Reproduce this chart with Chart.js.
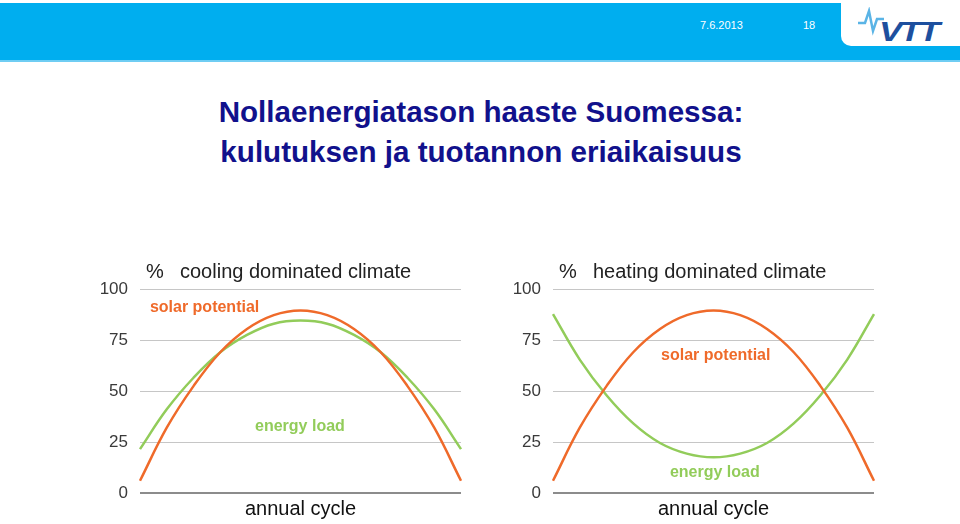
<!DOCTYPE html>
<html>
<head>
<meta charset="utf-8">
<script src="https://cdn.jsdelivr.net/npm/chart.js@4.4.1/dist/chart.umd.min.js"></script>
<style>
  html, body { margin: 0; padding: 0; background: #fff; }
  body { width: 960px; height: 524px; position: relative; overflow: hidden; font-family: "Liberation Sans", Arial, sans-serif; }
  #bar { position: absolute; left: 0; top: 3px; width: 960px; height: 57px; background: #00aeef; border-bottom: 2px solid #6fcdf3; }
  #tab { position: absolute; left: 841px; top: 0; width: 119px; height: 46px; background: #fff; border-bottom-left-radius: 10px; }
  #date { position: absolute; left: 700px; top: 19px; color: #fff; font-size: 11px; }
  #page { position: absolute; left: 803px; top: 19px; color: #fff; font-size: 11px; }
  #logo { position: absolute; left: 879px; top: 16px; color: #1d4f9e; font: italic bold 28px "Liberation Sans", Arial, sans-serif; letter-spacing: -2px; transform: scaleX(1.25); transform-origin: left top; }
  #pulse { position: absolute; left: 856px; top: 7px; }
  #title { position: absolute; left: 0; width: 962px; top: 92px; text-align: center; color: #11118c; font: bold 29.6px "Liberation Sans", Arial, sans-serif; line-height: 40px; }
  .chartBox { position: absolute; top: 255px; width: 375px; height: 270px; }
</style>
</head>
<body>
<div id="bar"></div>
<div id="tab"></div>
<div id="date">7.6.2013</div>
<div id="page">18</div>
<svg id="pulse" width="30" height="30"><polyline points="2,16 9,16 13,4 17,24 21,12 28,12" fill="none" stroke="#5ab4e6" stroke-width="2.5"/></svg>
<div id="logo">VTT</div>
<div id="title">Nollaenergiatason haaste Suomessa:<br>kulutuksen ja tuotannon eriaikaisuus</div>
<div class="chartBox" style="left:90px"><canvas id="coolingChart"></canvas></div>
<div class="chartBox" style="left:503px"><canvas id="heatingChart"></canvas></div>
<script>
// annual cycle, 13 points from start to end of the year
const months = ['Jan', 'Feb', 'Mar', 'Apr', 'May', 'Jun', 'Jul', 'Aug', 'Sep', 'Oct', 'Nov', 'Dec', 'Jan'];
const yTicks = [0, 25, 50, 75, 100];

// cooling dominated climate (%)
const coolingSolar = [6, 32, 52.4, 69, 80.4, 87.2, 89.5, 87.2, 80.4, 69, 52.4, 32, 6];
const coolingLoad = [21.5, 41, 56.5, 69, 77.5, 83, 84.5, 83, 77.5, 69, 56.5, 41, 21.5];

// heating dominated climate (%)
const heatingSolar = [6, 32, 52.4, 69, 80.4, 87.2, 89.5, 87.2, 80.4, 69, 52.4, 32, 6];
const heatingLoad = [87.7, 65.4, 47.9, 34.1, 24.5, 19.3, 17.5, 19.3, 24.5, 34.1, 47.9, 65.4, 87.7];

const ORANGE = '#ef6a2a';
const GREEN = '#92cc5a';
const FONT = '"Liberation Sans", Arial, sans-serif';

// heading, "%" and the in-plot series labels
const slideText = {
    id: 'slideText',
    afterDraw(chart, args, opts) {
        const { ctx, chartArea, scales: { x, y } } = chart;
        ctx.save();
        ctx.textBaseline = 'middle';
        ctx.fillStyle = '#222';
        ctx.font = '20px ' + FONT;
        ctx.fillText('%', chartArea.left + 6, chartArea.top - 17);
        ctx.fillText(opts.heading, chartArea.left + 40, chartArea.top - 17);
        ctx.font = 'bold 16px ' + FONT;
        opts.labels.forEach(l => {
            ctx.fillStyle = l.color;
            ctx.fillText(l.text, x.getPixelForValue(l.at), y.getPixelForValue(l.value));
        });
        ctx.restore();
    }
};

function makeChart(id, solar, load, heading, labels) {
    return new Chart(document.getElementById(id), {
        type: 'line',
        data: {
            labels: months,
            datasets: [
                { label: 'solar potential', data: solar, borderColor: ORANGE, borderWidth: 2.5, pointRadius: 0, tension: 0.4, clip: 3 },
                { label: 'energy load', data: load, borderColor: GREEN, borderWidth: 2.5, pointRadius: 0, tension: 0.4, clip: 3 }
            ]
        },
        options: {
            responsive: true,
            maintainAspectRatio: false,
            animation: false,
            layout: { padding: { top: 34, right: 4, left: 0, bottom: 0 } },
            plugins: {
                legend: { display: false },
                tooltip: { enabled: false },
                slideText: { heading: heading, labels: labels }
            },
            scales: {
                x: {
                    grid: { display: false, drawTicks: false },
                    border: { display: false },
                    ticks: { display: false },
                    title: { display: true, text: 'annual cycle', color: '#111', font: { size: 20, family: FONT }, padding: { top: 4, bottom: 4 } }
                },
                y: {
                    min: 0,
                    max: 100,
                    afterFit(scale) { scale.width = 50; },
                    afterBuildTicks(scale) { scale.ticks = yTicks.map(v => ({ value: v })); },
                    grid: {
                        drawTicks: false,
                        color: c => c.tick.value === 0 ? '#8c8c8c' : '#c6c6c6',
                        lineWidth: c => c.tick.value === 0 ? 2 : 1
                    },
                    border: { display: false },
                    ticks: { color: '#3a3a3a', padding: 12, font: { size: 17, family: FONT } }
                }
            }
        },
        plugins: [slideText]
    });
}

makeChart('coolingChart', coolingSolar, coolingLoad, 'cooling dominated climate', [
    { text: 'solar potential', at: 0.37, value: 90.7, color: ORANGE },
    { text: 'energy load', at: 4.3, value: 32.7, color: GREEN }
]);
makeChart('heatingChart', heatingSolar, heatingLoad, 'heating dominated climate', [
    { text: 'solar potential', at: 4.04, value: 67.3, color: ORANGE },
    { text: 'energy load', at: 4.37, value: 10.2, color: GREEN }
]);
</script>
</body>
</html>
